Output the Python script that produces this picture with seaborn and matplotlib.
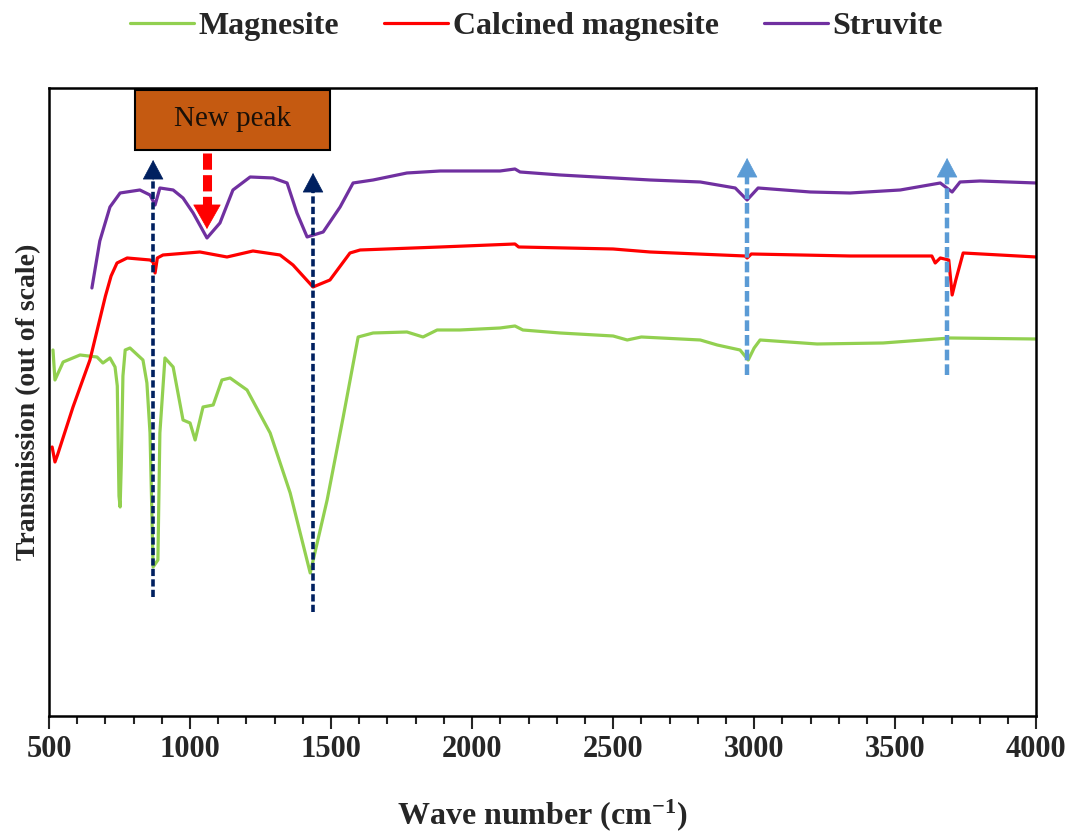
import numpy as np
import pandas as pd
import matplotlib.pyplot as plt
from matplotlib.lines import Line2D
from matplotlib.patches import Rectangle
from matplotlib.ticker import MultipleLocator
import seaborn as sns

##Spectra (transmission in arbitrary units)
mag_wn = [514, 521, 550, 610, 670, 691, 716, 734, 742, 748, 752, 756, 762, 770, 787, 833, 847, 858, 869, 886,
          893, 911, 940, 975, 1000, 1018, 1046, 1082, 1113, 1142, 1202, 1284, 1355, 1426, 1486, 1543, 1596, 1649, 1769, 1826,
          1876, 1957, 2099, 2152, 2180, 2312, 2500, 2550, 2600, 2809, 2869, 2950, 2979, 3000, 3021, 3223, 3457, 3695, 4000]
mag_t = [366, 336, 354, 361, 359, 353, 358, 349, 330, 220, 209, 250, 340, 366, 368, 356, 333, 283, 149, 156,
         283, 358, 349, 296, 293, 276, 309, 311, 336, 338, 326, 283, 223, 143, 216, 299, 379, 383, 384, 379,
         386, 386, 388, 390, 386, 383, 380, 376, 379, 376, 371, 366, 356, 368, 376, 372, 373, 378, 377]

calc_wn = [511, 521, 530, 585, 645, 700, 720, 741, 777, 858, 869, 876, 884, 904, 1035, 1131, 1223, 1319, 1365, 1436, 1496,
           1567, 1603, 1887, 2152, 2165, 2500, 2631, 2968, 2975, 2990, 3340, 3630, 3642, 3660, 3690, 3702, 3715, 3741, 4000]
calc_t = [269, 254, 261, 309, 356, 420, 440, 453, 458, 456, 454, 443, 458, 461, 464, 459, 465, 461, 451, 429, 436,
          463, 466, 469, 472, 469, 467, 464, 460, 458, 462, 460, 460, 453, 458, 456, 421, 436, 463, 459]

str_wn = [652, 680, 716, 752, 822, 858, 876, 893, 940, 975, 1011, 1060, 1106, 1152, 1213, 1294, 1344, 1379, 1415, 1472,
          1532, 1578, 1649, 1769, 1887, 2099, 2152, 2170, 2312, 2631, 2809, 2933, 2975, 3014, 3199, 3340, 3518, 3660, 3702, 3730,
          3801, 4000]
str_t = [428, 475, 509, 523, 526, 521, 511, 528, 526, 518, 503, 478, 493, 526, 539, 538, 533, 503, 479, 484,
         509, 533, 536, 543, 545, 545, 547, 544, 541, 536, 534, 528, 516, 528, 524, 523, 526, 533, 524, 534,
         535, 533]

samples = ['Magnesite', 'Calcined magnesite', 'Struvite']
colors = ['#92D050', '#FF0000', '#7030A0']

df = pd.concat([
    pd.DataFrame({'wn': mag_wn, 't': mag_t, 'sample': samples[0]}),
    pd.DataFrame({'wn': calc_wn, 't': calc_t, 'sample': samples[1]}),
    pd.DataFrame({'wn': str_wn, 't': str_t, 'sample': samples[2]}),
])

sns.set_style('white')
plt.rcParams['font.family'] = ['Liberation Serif', 'DejaVu Serif']
plt.rcParams['mathtext.fontset'] = 'custom'
plt.rcParams['mathtext.rm'] = 'Liberation Serif:bold'
plt.rcParams['mathtext.it'] = 'Liberation Serif:bold'

fig = plt.figure(figsize=(10.73, 8.34), dpi=100)
ax = fig.add_axes([0.0457, 0.1415, 0.92, 0.753])

sns.lineplot(data=df, x='wn', y='t', hue='sample', palette=dict(zip(samples, colors)),
             estimator=None, sort=False, lw=2.3, legend=False, ax=ax)

##peak markers: dashed shaft + filled head
def up_arrow(x, y0, y1, color, lw, dashes, ms, hlen):
    ax.plot([x, x], [y0, y1 - hlen * 0.7], color=color, lw=lw, dashes=dashes, zorder=4)
    ax.annotate('', xy=(x, y1), xytext=(x, y1 - hlen), zorder=4,
                arrowprops=dict(arrowstyle='-|>,head_length=0.6,head_width=0.32', mutation_scale=ms,
                                color=color, lw=0.5, shrinkA=0, shrinkB=0))

up_arrow(869, 119, 556, '#002060', 2.6, (2, 0.9), 22, 20)
up_arrow(1436, 104, 543, '#002060', 2.6, (2, 0.9), 22, 20)
up_arrow(2975, 341, 558, '#5B9BD5', 3.2, (2.4, 0.9), 22, 20)
up_arrow(3684, 341, 558, '#5B9BD5', 3.2, (2.4, 0.9), 22, 20)

##New peak box with red arrow
ax.add_patch(Rectangle((805, 566), 691, 60, facecolor='#C55A11', edgecolor='black', lw=1.5, zorder=5))
ax.text(1150, 597, 'New peak', ha='center', va='center', fontsize=21, color='#1a1008', zorder=6)
ax.plot([1060, 1060], [563, 508], color='#FF0000', lw=6.5, dashes=(1.8, 0.6), zorder=4)
ax.annotate('', xy=(1060, 487), xytext=(1060, 515), zorder=4,
            arrowprops=dict(arrowstyle='-|>,head_length=0.6,head_width=0.34', mutation_scale=28,
                            color='#FF0000', lw=0.5, shrinkA=0, shrinkB=0))

ax.set_xlim(500, 4000)
ax.set_ylim(0, 628)
ax.set_xticks(range(500, 4001, 500))
ax.xaxis.set_minor_locator(MultipleLocator(100))
ax.set_yticks([])
ax.tick_params(axis='x', which='major', direction='out', length=9, width=1.5, pad=5, labelsize=22, bottom=True)
ax.tick_params(axis='x', which='minor', direction='out', length=6, width=1.5, bottom=True)
for lab in ax.get_xticklabels():
    lab.set_fontweight('bold')
for sp in ax.spines.values():
    sp.set_color('black')
    sp.set_linewidth(1.8)

ax.set_xlabel('Wave number (cm$^{-1}$)', fontsize=23, fontweight='bold')
ax.xaxis.set_label_coords(0.5, -0.13)
ax.set_ylabel('Transmission (out of scale)', fontsize=20, fontweight='bold')
ax.yaxis.set_label_coords(-0.008, 0.5)

handles = [Line2D([0], [0], color=c, lw=2.3) for c in colors]
fig.legend(handles, samples, loc='center', bbox_to_anchor=(0.5, 0.968), ncol=3, frameon=False,
           prop=dict(weight='bold', size=23), handlelength=2.0, columnspacing=1.4, handletextpad=0.15)

fig.savefig('out.png', dpi=100)
